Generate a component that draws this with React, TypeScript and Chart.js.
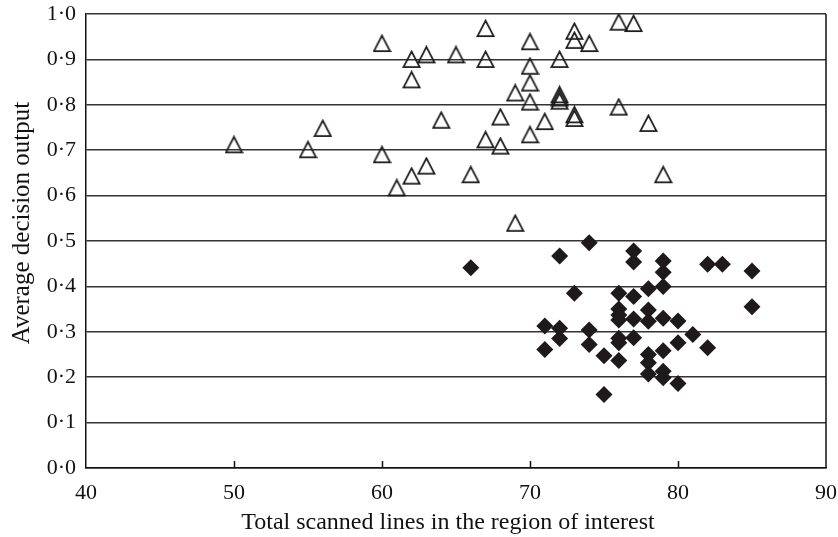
import React, { useEffect, useRef } from "react";
import { Chart, registerables } from "chart.js";

Chart.register(...registerables);

// ---- data ----
const triangleX = [50, 55, 56, 60, 60, 61, 62, 62, 62, 63, 63, 64, 65, 66, 67, 67, 67, 68, 68, 69, 69, 70, 70, 70, 70, 70, 71, 72, 72, 72, 72, 73, 73, 73, 73, 74, 76, 76, 77, 78, 79];
const triangleY = [0.712, 0.701, 0.748, 0.935, 0.69, 0.617, 0.9, 0.855, 0.643, 0.91, 0.665, 0.766, 0.91, 0.646, 0.968, 0.9, 0.723, 0.773, 0.709, 0.826, 0.539, 0.939, 0.885, 0.848, 0.806, 0.734, 0.763, 0.9, 0.822, 0.815, 0.808, 0.962, 0.942, 0.778, 0.77, 0.935, 0.982, 0.795, 0.979, 0.759, 0.646];

const diamondX = [66, 71, 71, 72, 72, 72, 73, 74, 74, 74, 75, 75, 76, 76, 76, 76, 76, 76, 76, 77, 77, 77, 77, 77, 78, 78, 78, 78, 78, 78, 79, 79, 79, 79, 79, 79, 79, 80, 80, 80, 81, 82, 82, 83, 85, 85];
const diamondY = [0.441, 0.313, 0.261, 0.467, 0.308, 0.285, 0.385, 0.496, 0.304, 0.272, 0.247, 0.162, 0.385, 0.35, 0.337, 0.326, 0.286, 0.276, 0.237, 0.478, 0.454, 0.378, 0.328, 0.287, 0.395, 0.348, 0.323, 0.25, 0.232, 0.207, 0.456, 0.431, 0.4, 0.33, 0.258, 0.213, 0.199, 0.324, 0.276, 0.186, 0.294, 0.449, 0.265, 0.449, 0.434, 0.355];

const xTickValues = [40, 50, 60, 70, 80, 90];
const yTickLabels = ["0·0", "0·1", "0·2", "0·3", "0·4", "0·5", "0·6", "0·7", "0·8", "0·9", "1·0"];
const xTitle = "Total scanned lines in the region of interest";
const yTitle = "Average decision output";

const FONT = "'Liberation Serif', 'Times New Roman', serif";

function makeTriangle(): HTMLCanvasElement {
  const c = document.createElement("canvas");
  c.width = 19;
  c.height = 19;
  const g = c.getContext("2d")!;
  g.strokeStyle = "#1a1a1a";
  g.lineWidth = 1.8;
  g.lineJoin = "miter";
  g.beginPath();
  g.moveTo(9.5, 1.6);
  g.lineTo(17.6, 17.2);
  g.lineTo(1.4, 17.2);
  g.closePath();
  g.stroke();
  return c;
}

const frame = {
  id: "frame",
  beforeDatasetsDraw(chart: any) {
    const { ctx, chartArea, scales } = chart;
    ctx.save();
    ctx.strokeStyle = "#111";
    ctx.lineWidth = 1.5;
    for (const v of xTickValues.slice(1, -1)) {
      const px = Math.round(scales.x.getPixelForValue(v)) + 0.5;
      ctx.beginPath();
      ctx.moveTo(px, chartArea.bottom);
      ctx.lineTo(px, chartArea.bottom - 7);
      ctx.stroke();
    }
    ctx.beginPath();
    ctx.moveTo(chartArea.right, chartArea.top);
    ctx.lineTo(chartArea.right, chartArea.bottom);
    ctx.stroke();
    ctx.restore();
  },
  afterDraw(chart: any) {
    const { ctx, chartArea } = chart;
    const cx = (chartArea.left + chartArea.right) / 2;
    const cy = (chartArea.top + chartArea.bottom) / 2;
    ctx.save();
    ctx.fillStyle = "#111";
    ctx.font = `24px ${FONT}`;
    ctx.textAlign = "center";
    ctx.textBaseline = "middle";
    ctx.fillText(xTitle, cx - 8, chartArea.bottom + 55);
    ctx.translate(22, cy - 18);
    ctx.rotate(-Math.PI / 2);
    ctx.font = `25px ${FONT}`;
    ctx.fillText(yTitle, 0, 0);
    ctx.restore();
  },
};

export default function App() {
  const ref = useRef<HTMLCanvasElement>(null);

  useEffect(() => {
    document.body.style.margin = "0";
    const tri = makeTriangle();
    const chart = new Chart(ref.current!, {
      type: "scatter",
      data: {
        datasets: [
          {
            label: "triangles",
            data: triangleX.map((x, i) => ({ x, y: triangleY[i] })),
            pointStyle: tri as any,
            pointRadius: 9,
            backgroundColor: "rgba(0,0,0,0)",
            borderColor: "#1a1a1a",
          },
          {
            label: "diamonds",
            data: diamondX.map((x, i) => ({ x, y: diamondY[i] })),
            pointStyle: "rectRot",
            pointRadius: 8.5,
            borderWidth: 0,
            backgroundColor: "#1e1a1b",
            borderColor: "#1e1a1b",
          },
        ],
      },
      options: {
        responsive: false,
        animation: false,
        events: [],
        layout: { padding: { top: 14, right: 12, left: 0, bottom: 0 } },
        plugins: { legend: { display: false }, tooltip: { enabled: false } },
        scales: {
          x: {
            type: "linear",
            min: 40,
            max: 90,
            afterFit: (s: any) => {
              s.height = 69;
              s.paddingLeft = 0;
              s.paddingRight = 0;
            },
            afterBuildTicks: (s: any) => {
              s.ticks = xTickValues.map((v) => ({ value: v }));
            },
            ticks: {
              color: "#111",
              font: { family: FONT, size: 22 },
              padding: 12,
              maxRotation: 0,
              callback: (v: any) => String(v),
            },
            grid: { drawOnChartArea: false, drawTicks: false },
            border: { display: true, color: "#111", width: 1.5 },
            title: { display: false },
          },
          y: {
            type: "linear",
            min: 0,
            max: 1,
            afterFit: (s: any) => {
              s.width = 86;
              s.paddingTop = 0;
              s.paddingBottom = 0;
            },
            afterBuildTicks: (s: any) => {
              s.ticks = yTickLabels.map((_, i) => ({ value: i / 10 }));
            },
            ticks: {
              color: "#111",
              font: { family: FONT, size: 22 },
              padding: 10,
              callback: (v: any) => yTickLabels[Math.round(Number(v) * 10)],
            },
            grid: { color: "#333", lineWidth: 1.5, drawTicks: false },
            border: { display: true, color: "#111", width: 1.5 },
            title: { display: false },
          },
        },
      },
      plugins: [frame],
    });
    return () => chart.destroy();
  }, []);

  return (
    <div style={{ width: 838, height: 537 }}>
      <canvas ref={ref} width={838} height={537} style={{ display: "block" }} />
    </div>
  );
}
